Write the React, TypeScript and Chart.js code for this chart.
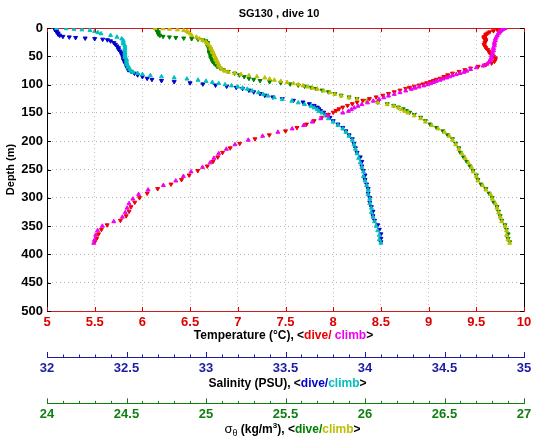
import React, { useEffect, useRef } from 'react';
import { Chart, registerables } from 'chart.js';

Chart.register(...registerables);

const FONT = '"Liberation Sans", Arial, Helvetica, sans-serif';

// ---------------- data ----------------
const diveDepth = [1, 3, 5, 7, 9, 11, 13, 15, 16, 17, 18, 19, 20, 21,
  23, 26, 29, 32, 35, 38, 41, 44, 47, 50, 53, 56, 59, 62, 65, 68, 71, 74, 77, 80, 83, 86, 89,
  91, 93, 95, 97, 99, 101, 103, 105, 107,
  110, 113, 116, 119, 122, 125, 128, 131, 134, 137, 140, 143, 146, 149,
  153, 158, 164, 170, 176, 182, 189, 196,
  204, 212, 220, 228, 236, 244, 252, 260, 268, 276, 284, 292, 300, 308, 316, 324, 332, 340, 348, 356, 364, 372, 378];

const diveTemp = [9.75, 9.72, 9.68, 9.64, 9.62, 9.60, 9.60, 9.59, 9.58, 9.58, 9.58, 9.59, 9.59, 9.60,
  9.60, 9.59, 9.58, 9.59, 9.60, 9.62, 9.63, 9.64, 9.66, 9.68, 9.70, 9.70, 9.69, 9.66, 9.60, 9.52, 9.44, 9.38, 9.32, 9.25, 9.20, 9.16, 9.12,
  9.08, 9.05, 9.02, 8.98, 8.94, 8.90, 8.85, 8.80, 8.76,
  8.70, 8.64, 8.58, 8.52, 8.45, 8.38, 8.31, 8.25, 8.20, 8.15, 8.10, 8.06, 8.03, 8.00,
  7.95, 7.88, 7.80, 7.72, 7.62, 7.50, 7.33, 7.18,
  7.02, 6.92, 6.84, 6.79, 6.74, 6.68, 6.58, 6.49, 6.41, 6.30, 6.16, 6.05, 5.97, 5.92, 5.88, 5.86, 5.83, 5.77, 5.63, 5.57, 5.54, 5.52, 5.50];

const diveSal = [32.05, 32.05, 32.06, 32.06, 32.07, 32.07, 32.08, 32.10, 32.14, 32.18, 32.24, 32.30, 32.35, 32.38,
  32.40, 32.42, 32.43, 32.44, 32.45, 32.45, 32.46, 32.47, 32.47, 32.48, 32.48, 32.48, 32.49, 32.49, 32.50, 32.50, 32.51, 32.51, 32.53, 32.55, 32.57, 32.60, 32.63,
  32.66, 32.72, 32.80, 32.90, 32.98, 33.06, 33.13, 33.19, 33.23,
  33.27, 33.30, 33.34, 33.37, 33.42, 33.48, 33.55, 33.61, 33.65, 33.68, 33.70, 33.71, 33.72, 33.74,
  33.76, 33.78, 33.80, 33.83, 33.86, 33.88, 33.90, 33.92,
  33.93, 33.94, 33.95, 33.97, 33.98, 33.98, 33.99, 34.00, 34.00, 34.01, 34.02, 34.02, 34.03, 34.03, 34.04, 34.05, 34.05, 34.06, 34.08, 34.09, 34.10, 34.10, 34.10];

const diveSigma = [24.69, 24.69, 24.69, 24.70, 24.70, 24.70, 24.71, 24.73, 24.77, 24.81, 24.86, 24.91, 24.95, 24.98,
  25.00, 25.01, 25.01, 25.01, 25.02, 25.02, 25.02, 25.02, 25.03, 25.03, 25.03, 25.04, 25.04, 25.05, 25.06, 25.07, 25.09, 25.11, 25.14, 25.18, 25.21, 25.24, 25.27,
  25.30, 25.34, 25.40, 25.47, 25.53, 25.58, 25.62, 25.66, 25.69,
  25.73, 25.77, 25.81, 25.85, 25.90, 25.95, 26.01, 26.08, 26.14, 26.18, 26.21, 26.24, 26.26, 26.28,
  26.31, 26.35, 26.38, 26.41, 26.45, 26.49, 26.52, 26.55,
  26.57, 26.59, 26.60, 26.62, 26.64, 26.66, 26.68, 26.70, 26.71, 26.73, 26.76, 26.78, 26.80, 26.81, 26.83, 26.84, 26.85, 26.86, 26.88, 26.89, 26.90, 26.90, 26.91];

const climbDepth = [0.5, 1, 2, 3, 4, 6, 8, 10,
  13, 16, 19, 22, 25, 28, 31, 34, 37, 40, 43, 46, 49, 52, 55, 58, 61, 64, 67, 70, 73, 76,
  78, 80, 82, 84, 86, 88, 90, 92, 94, 96, 98, 100, 102, 104, 106, 108,
  111, 114, 117, 120, 123, 126, 129, 132, 135, 138, 141, 144, 147, 150,
  155, 160, 166, 172, 178, 184, 191, 198,
  206, 214, 222, 230, 238, 246, 254, 262, 270, 278, 286, 294, 302, 310, 318, 326, 334, 342, 350, 358, 366, 374, 380];

const climbTemp = [9.80, 9.79, 9.78, 9.77, 9.76, 9.75, 9.74, 9.73,
  9.72, 9.71, 9.70, 9.70, 9.69, 9.69, 9.69, 9.68, 9.68, 9.68, 9.67, 9.67, 9.66, 9.66, 9.65, 9.64, 9.63, 9.61, 9.57, 9.50, 9.44, 9.40,
  9.37, 9.33, 9.29, 9.25, 9.22, 9.19, 9.15, 9.12, 9.08, 9.05, 9.02, 8.99, 8.95, 8.90, 8.86, 8.82,
  8.76, 8.70, 8.64, 8.58, 8.53, 8.48, 8.42, 8.36, 8.30, 8.26, 8.22, 8.19, 8.16, 8.10,
  7.94, 7.87, 7.78, 7.69, 7.57, 7.42, 7.26, 7.11,
  6.97, 6.88, 6.80, 6.75, 6.71, 6.63, 6.51, 6.43, 6.35, 6.22, 6.06, 5.96, 5.90, 5.86, 5.84, 5.82, 5.79, 5.70, 5.58, 5.53, 5.51, 5.50, 5.49];

const climbSal = [32.06, 32.12, 32.17, 32.22, 32.27, 32.30, 32.32, 32.34,
  32.40, 32.44, 32.47, 32.48, 32.48, 32.48, 32.49, 32.49, 32.49, 32.49, 32.49, 32.49, 32.49, 32.49, 32.50, 32.50, 32.50, 32.50, 32.51, 32.51, 32.52, 32.53,
  32.54, 32.57, 32.60, 32.65, 32.72, 32.80, 32.88, 32.95, 33.00, 33.04, 33.08, 33.12, 33.16, 33.20, 33.23, 33.26,
  33.29, 33.33, 33.36, 33.39, 33.43, 33.48, 33.54, 33.58, 33.62, 33.66, 33.68, 33.70, 33.71, 33.73,
  33.75, 33.77, 33.80, 33.83, 33.86, 33.88, 33.90, 33.92,
  33.93, 33.94, 33.95, 33.96, 33.97, 33.98, 33.99, 33.99, 34.00, 34.01, 34.02, 34.02, 34.03, 34.03, 34.04, 34.04, 34.05, 34.06, 34.07, 34.08, 34.09, 34.09, 34.10];

const climbSigma = [24.68, 24.73, 24.77, 24.82, 24.86, 24.88, 24.89, 24.90,
  24.91, 24.94, 24.96, 24.98, 25.00, 25.01, 25.02, 25.03, 25.03, 25.04, 25.04, 25.05, 25.05, 25.06, 25.06, 25.07, 25.07, 25.08, 25.08, 25.09, 25.10, 25.12,
  25.14, 25.18, 25.22, 25.27, 25.32, 25.37, 25.40, 25.43, 25.47, 25.51, 25.55, 25.58, 25.61, 25.64, 25.67, 25.70,
  25.74, 25.78, 25.81, 25.85, 25.90, 25.95, 26.01, 26.08, 26.14, 26.18, 26.21, 26.23, 26.25, 26.27,
  26.31, 26.35, 26.38, 26.42, 26.46, 26.50, 26.53, 26.55,
  26.57, 26.59, 26.61, 26.63, 26.65, 26.67, 26.68, 26.70, 26.71, 26.74, 26.76, 26.79, 26.80, 26.82, 26.83, 26.84, 26.85, 26.86, 26.88, 26.89, 26.89, 26.90, 26.91];

const titleText = 'SG130 , dive 10';
const depthLabel = 'Depth (m)';

// ---------------- colours ----------------
const C_TDIVE = '#ee0000';
const C_TCLIMB = '#f000f0';
const C_SDIVE = '#0000cc';
const C_SCLIMB = '#00bfbf';
const C_DDIVE = '#008000';
const C_DCLIMB = '#bfbf00';
const C_TAXIS = '#dd0000';
const C_SAXIS = '#1c1ca0';
const C_DAXIS = '#108010';

const pts = (depth: number[], vals: number[]) => depth.map((d, i) => ({ x: vals[i], y: d }));

const isMajor = (v: number) => Math.abs(v * 2 - Math.round(v * 2)) < 1e-6;
const majorLabel = (v: any) => (isMajor(Number(v)) ? String(Math.round(Number(v) * 10) / 10) : '');

type Seg = { t: string; c: string; f?: string; dy?: number };

function drawSegs(ctx: CanvasRenderingContext2D, segs: Seg[], cx: number, cy: number, baseFont: string) {
  let w = 0;
  for (const s of segs) {
    ctx.font = s.f || baseFont;
    w += ctx.measureText(s.t).width;
  }
  let x = cx - w / 2;
  ctx.textBaseline = 'middle';
  ctx.textAlign = 'left';
  for (const s of segs) {
    ctx.font = s.f || baseFont;
    ctx.fillStyle = s.c;
    ctx.fillText(s.t, x, cy + (s.dy || 0));
    x += ctx.measureText(s.t).width;
  }
}

const decor = {
  id: 'decor',
  afterDraw(chart: any) {
    const { ctx, chartArea: ca, scales } = chart;
    ctx.save();
    const line = (x1: number, y1: number, x2: number, y2: number) => {
      ctx.beginPath();
      ctx.moveTo(x1, y1);
      ctx.lineTo(x2, y2);
      ctx.stroke();
    };
    ctx.lineWidth = 1;
    // inward frame ticks
    const xs = scales.x;
    const ys = scales.y;
    ctx.strokeStyle = C_TAXIS;
    xs.ticks.forEach((t: any) => {
      const px = Math.round(xs.getPixelForValue(t.value)) + 0.5;
      line(px, ca.bottom, px, ca.bottom - 4);
      line(px, ca.top, px, ca.top + 4);
    });
    ctx.strokeStyle = '#000';
    ys.ticks.forEach((t: any) => {
      const py = Math.round(ys.getPixelForValue(t.value)) + 0.5;
      line(ca.left, py, ca.left + 4, py);
      line(ca.right, py, ca.right - 4, py);
    });
    // lower axes: upward ticks
    const lower: [string, string][] = [['xS', C_SAXIS], ['xD', C_DAXIS]];
    for (const [id, col] of lower) {
      const s = scales[id];
      ctx.strokeStyle = col;
      s.ticks.forEach((t: any) => {
        const px = Math.round(s.getPixelForValue(t.value)) + 0.5;
        const len = isMajor(t.value) ? 5 : 2.5;
        line(px, s.top, px, s.top - len);
      });
    }
    // texts
    const B11 = `bold 11px ${FONT}`;
    const B12 = `bold 12px ${FONT}`;
    drawSegs(ctx, [{ t: titleText, c: '#000' }], 279, 13.5, B11);
    const cx = (ca.left + ca.right) / 2;
    drawSegs(ctx, [
      { t: 'Temperature (°C), <', c: '#000' },
      { t: 'dive/ ', c: C_TDIVE },
      { t: 'climb', c: C_TCLIMB },
      { t: '>', c: '#000' },
    ], cx - 2, xs.top + 25, B12);
    const ss = scales.xS;
    drawSegs(ctx, [
      { t: 'Salinity (PSU), <', c: '#000' },
      { t: 'dive/', c: C_SDIVE },
      { t: 'climb', c: C_SCLIMB },
      { t: '>', c: '#000' },
    ], cx + 2, ss.top + 27, B12);
    const ds = scales.xD;
    drawSegs(ctx, [
      { t: 'σ', c: '#000', f: `13px ${FONT}` },
      { t: 'θ', c: '#000', f: `9px ${FONT}`, dy: 4 },
      { t: ' (kg/m', c: '#000' },
      { t: '3', c: '#000', f: `bold 8px ${FONT}`, dy: -4 },
      { t: '), <', c: '#000' },
      { t: 'dive/', c: C_DDIVE },
      { t: 'climb', c: C_DCLIMB },
      { t: '>', c: '#000' },
    ], cx + 7, ds.top + 26, B12);
    ctx.restore();
  },
};

export default function App() {
  const ref = useRef<HTMLCanvasElement>(null);
  useEffect(() => {
    const canvas = ref.current;
    if (!canvas) return;
    const tickFont = { family: FONT, size: 13, weight: 'bold' as const };
    const mk = (label: string, data: any[], color: string, xAxisID: string, dive: boolean) => ({
      label,
      data,
      xAxisID,
      yAxisID: 'y',
      showLine: false,
      pointStyle: 'triangle',
      pointRotation: dive ? 180 : 0,
      pointRadius: 2.3,
      pointBorderWidth: 1,
      borderColor: color,
      backgroundColor: color,
      order: dive ? 1 : 0,
    });
    const chart = new Chart(canvas, {
      type: 'scatter',
      data: {
        datasets: [
          mk('Temperature dive', pts(diveDepth, diveTemp), C_TDIVE, 'x', true),
          mk('Temperature climb', pts(climbDepth, climbTemp), C_TCLIMB, 'x', false),
          mk('Salinity dive', pts(diveDepth, diveSal), C_SDIVE, 'xS', true),
          mk('Salinity climb', pts(climbDepth, climbSal), C_SCLIMB, 'xS', false),
          mk('Sigma dive', pts(diveDepth, diveSigma), C_DDIVE, 'xD', true),
          mk('Sigma climb', pts(climbDepth, climbSigma), C_DCLIMB, 'xD', false),
        ] as any,
      },
      options: {
        responsive: false,
        animation: false,
        devicePixelRatio: 1,
        layout: { padding: { top: 28, right: 11, left: 0, bottom: 0 } },
        plugins: {
          legend: { display: false },
          tooltip: { enabled: false },
          title: { display: false },
        },
        scales: {
          y: {
            type: 'linear',
            position: 'left',
            reverse: true,
            min: 0,
            max: 500,
            ticks: { stepSize: 50, color: '#000', font: tickFont, padding: 4 },
            grid: {
              drawTicks: false,
              color: (c: any) => (c.tick && (c.tick.value === 0 || c.tick.value === 500) ? 'rgba(0,0,0,0)' : 'rgba(60,60,60,0.38)'),
            },
            border: { color: '#000', dash: [1, 3] },
            title: {
              display: true,
              text: depthLabel,
              color: '#000',
              font: { family: FONT, size: 11, weight: 'bold' },
              padding: { top: 4, bottom: 0 },
            },
            afterFit: (s: any) => { s.width = 47; },
          },
          yR: {
            type: 'linear',
            position: 'right',
            reverse: true,
            min: 0,
            max: 500,
            ticks: { display: false, stepSize: 50 },
            grid: { display: false, drawTicks: false },
            border: { color: '#000' },
            afterFit: (s: any) => { s.width = 0; },
          },
          xTop: {
            type: 'linear',
            position: 'top',
            min: 5,
            max: 10,
            ticks: { display: false, stepSize: 0.5 },
            grid: { display: false, drawTicks: false },
            border: { color: '#c81e1e' },
            afterFit: (s: any) => { s.height = 0; },
          },
          x: {
            type: 'linear',
            position: 'bottom',
            weight: 0,
            min: 5,
            max: 10,
            ticks: {
              stepSize: 0.5,
              autoSkip: false,
              maxRotation: 0,
              color: C_TAXIS,
              font: tickFont,
              padding: 3.2,
              callback: (v: any) => String(v),
            },
            grid: {
              drawTicks: false,
              color: (c: any) => (c.tick && (c.tick.value === 5 || c.tick.value === 10) ? 'rgba(0,0,0,0)' : 'rgba(190,70,70,0.4)'),
            },
            border: { color: '#c81e1e', dash: [1, 3] },
            afterFit: (s: any) => { s.height = 46; },
          },
          xS: {
            type: 'linear',
            position: 'bottom',
            weight: 1,
            min: 32,
            max: 35,
            ticks: {
              stepSize: 0.1,
              autoSkip: false,
              maxRotation: 0,
              color: C_SAXIS,
              font: tickFont,
              padding: 3.5,
              callback: majorLabel,
            },
            grid: { display: false, drawTicks: false },
            border: { color: C_SAXIS },
            afterFit: (s: any) => { s.height = 46.3; },
          },
          xD: {
            type: 'linear',
            position: 'bottom',
            weight: 2,
            min: 24,
            max: 27,
            ticks: {
              stepSize: 0.1,
              autoSkip: false,
              maxRotation: 0,
              color: C_DAXIS,
              font: tickFont,
              padding: 2.9,
              callback: majorLabel,
            },
            grid: { display: false, drawTicks: false },
            border: { color: C_DAXIS },
            afterFit: (s: any) => { s.height = 38.7; },
          },
        },
      } as any,
      plugins: [decor],
    });
    return () => chart.destroy();
  }, []);

  return (
    <div style={{ position: 'fixed', left: 0, top: 0, width: 535, height: 442, background: '#fff' }}>
      <canvas ref={ref} width={535} height={442} style={{ display: 'block', width: 535, height: 442 }} />
    </div>
  );
}
